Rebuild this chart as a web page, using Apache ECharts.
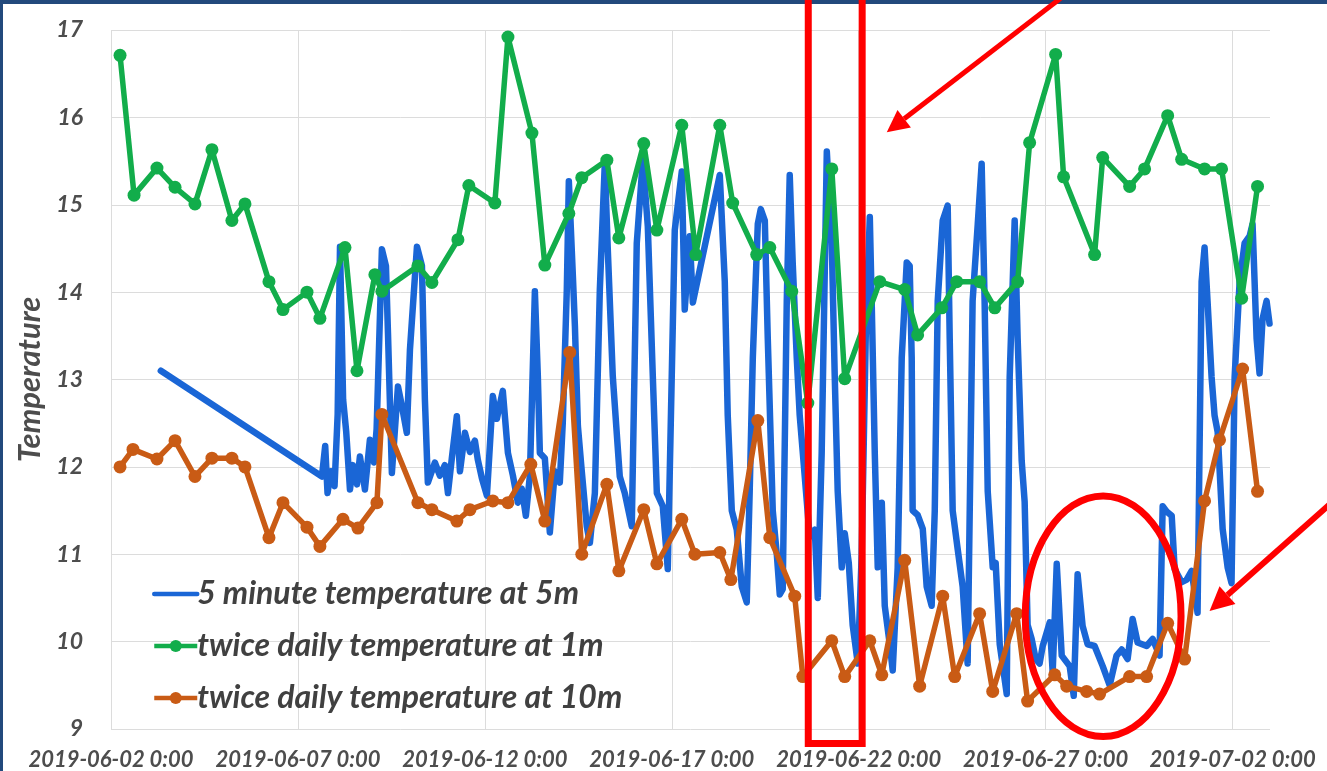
<!DOCTYPE html>
<html>
<head>
<meta charset="utf-8">
<script src="https://cdn.jsdelivr.net/npm/echarts@6.0.0/dist/echarts.min.js"></script>
<style>
  html, body { margin: 0; padding: 0; background: #ffffff; }
  #chart { width: 1327px; height: 771px; }
</style>
</head>
<body>
<div id="chart"></div>
<script>
// Time is counted in hours from 2019-06-02 00:00.
const seriesNames = [
  '5 minute temperature at 5m',
  'twice daily temperature at 1m',
  'twice daily temperature at 10m'
];
const xTickLabels = [
  '2019-06-02 0:00', '2019-06-07 0:00', '2019-06-12 0:00', '2019-06-17 0:00',
  '2019-06-22 0:00', '2019-06-27 0:00', '2019-07-02 0:00'
];

// [hours, °C] — logger at 5 m
const temp5m = [
  [32,13.10],
  [135.4,11.89],[137.5,12.24],[139,11.70],[141.2,11.95],[143.5,11.78],[145.5,12.60],[147,14.52],[149,12.77],[151,12.40],
  [153.4,11.74],[155.3,12.02],[157.9,11.80],[159.8,12.12],[163,11.74],[166.2,12.31],[168.8,12.05],[170.5,12.43],[173.9,14.49],
  [176.5,14.30],[177.8,13.53],[180.3,11.93],[184.2,12.92],[186.7,12.70],[189.9,12.39],[191.9,13.34],[196.4,14.52],[199.6,14.30],
  [201.5,12.77],[203.4,11.82],[207.9,12.05],[211.1,11.90],[214.3,12.02],[216.3,11.70],[218.8,12.10],[222,12.58],[224,11.95],
  [227.2,12.39],[230.4,12.17],[233.6,12.30],[235.5,12.08],[238.1,11.87],[241.3,11.67],[245.1,12.81],[247.7,12.55],[251.5,12.87],
  [254.8,12.16],[258,11.90],[261.2,11.59],[263.7,11.75],[266.3,11.44],[268.9,11.90],[272.1,14.01],[274,13.04],[275.3,12.16],
  [278.5,12.10],[281.7,11.25],[284.9,11.95],[288.1,11.82],[290,12.50],[292.6,14.03],[293.9,15.27],[296.5,14.18],[297.8,13.61],
  [299.7,12.47],[302.2,11.95],[305.4,11.32],[307.4,11.13],[310.6,11.70],[313.8,14.03],[317,15.48],[318.9,14.49],[322.1,13.04],
  [326.6,11.89],[329.8,11.70],[334.3,11.32],[337.5,14.56],[341.4,15.51],[344.6,14.75],[347.8,13.04],[350.4,11.70],[354.2,11.55],
  [357.4,10.83],[361.9,14.71],[366.4,15.38],[368.3,13.80],[371.5,14.64],[373.5,13.88],[390.8,15.34],[394,14.12],[395.9,12.59],
  [398.5,11.50],[401.7,11.28],[404.9,10.63],[408.1,10.45],[410,11.72],[412,13.25],[415.2,14.78],[417.1,14.95],[419.7,14.82],
  [421.6,13.47],[424.8,11.50],[427.4,11.00],[429.3,10.54],[431.2,10.60],[433.8,13.90],[435.7,15.34],[437.6,14.34],[440.2,13.25],
  [442.1,12.59],[445.3,11.90],[448.5,11.20],[451.8,11.28],[453.7,10.50],[456.2,12.15],[459.5,15.61],[462.7,14.56],[464.6,13.03],
  [466.5,11.72],[469.1,10.85],[471,11.24],[473.6,10.90],[476.1,10.19],[479.4,9.75],[481.9,11.00],[484.5,13.50],[487.1,14.86],
  [488.3,13.90],[490.3,12.15],[492.2,10.85],[494.8,11.59],[496.7,10.41],[499.9,9.97],[501.8,9.67],[505,10.85],[507.6,13.25],
  [510.8,14.34],[512.7,14.30],[514,13.25],[514.6,11.50],[517.8,11.45],[521.1,11.29],[523.6,10.63],[526.8,10.41],[528.8,11.50],
  [530.7,13.90],[533.9,14.82],[537.1,14.99],[538.4,13.47],[540.3,11.50],[543.5,11.06],[546.7,10.63],[549.9,9.75],[553.1,13.90],
  [556.4,14.78],[558.9,15.47],[560.8,13.90],[562.8,11.72],[566,10.85],[567.9,10.90],[570.5,9.97],[575,9.40],[576.9,13.03],
  [580.1,14.82],[582,13.47],[584.6,12.07],[586.5,11.60],[588.4,10.19],[591,10.03],[593.6,9.80],[596.1,9.75],[598.1,9.95],
  [602.6,10.22],[604.5,9.65],[607.1,10.89],[610.3,9.84],[615.4,9.72],[618,9.38],[620.5,10.77],[623.7,10.18],[626.9,9.97],
  [631.4,9.95],[636.6,9.72],[641.1,9.50],[645.5,9.84],[648.8,9.91],[652.6,9.80],[655.8,10.26],[659,9.99],[664.8,9.95],
  [668.7,10.03],[673.1,9.84],[675.1,11.55],[677.6,11.49],[680.9,11.44],[682.8,10.83],[687.3,10.68],[690.5,10.71],[693.7,10.81],
  [697.5,10.33],[700.1,14.12],[702,14.51],[703.9,13.90],[706.5,13.03],[708.4,12.59],[710.4,12.40],[713.6,11.29],[716.8,10.85],
  [719.3,10.67],[721.3,13.03],[724.5,14.12],[727.7,14.56],[730.9,14.64],[732.8,14.78],[735.4,13.47],[737.3,13.07],[739.2,13.69],
  [741.8,13.90],[743.7,13.64]
];

// [hours, °C] — twice daily readings at 1 m
const temp1m = [
  [5.8,16.71],[14.8,15.11],[29.5,15.42],[41.1,15.20],[53.9,15.01],[64.8,15.63],[77.6,14.82],[86,15.01],[101.4,14.12],
  [110.4,13.80],[125.8,14.00],[134.1,13.70],[150.2,14.51],[157.9,13.10],[169.4,14.20],[173.9,14.01],[197,14.30],[206,14.11],
  [222.7,14.60],[229.7,15.22],[246.4,15.02],[254.8,16.92],[270.2,15.82],[278.5,14.31],[293.9,14.90],[302.2,15.31],[318.3,15.51],
  [326,14.62],[342,15.70],[350.4,14.71],[366.4,15.91],[375.4,14.43],[390.8,15.91],[399.1,15.02],[414.5,14.43],[422.9,14.51],
  [437,14.01],[447.3,12.73],[462.7,15.41],[471,13.01],[493.5,14.12],[509.5,14.03],[517.8,13.51],[533.3,13.82],[542.9,14.12],
  [557.6,14.12],[567.3,13.82],[582,14.12],[589.7,15.71],[606.4,16.72],[611.5,15.32],[631.4,14.43],[636.6,15.54],[653.9,15.21],
  [663.5,15.41],[678.3,16.02],[687.3,15.52],[702,15.41],[712.9,15.41],[725.8,13.93],[736,15.21]
];

// [hours, °C] — twice daily readings at 10 m
const temp10m = [
  [5.8,12.00],[14.1,12.20],[29.5,12.09],[41.1,12.30],[53.9,11.89],[64.8,12.10],[77.6,12.10],[86,12.00],[101.4,11.19],
  [110.4,11.59],[125.8,11.31],[134.1,11.09],[148.9,11.40],[158.5,11.30],[170.7,11.59],[173.9,12.60],[197,11.59],[206,11.51],
  [222,11.38],[230.4,11.51],[245.1,11.61],[254.8,11.59],[269.5,12.03],[278.5,11.38],[294.5,13.31],[302.2,11.00],[318.3,11.80],
  [326,10.81],[342,11.51],[350.4,10.89],[366.4,11.40],[374.8,11.00],[390.8,11.02],[397.9,10.71],[415.2,12.53],[422.9,11.19],
  [438.9,10.52],[444.1,9.60],[462.7,10.01],[471,9.60],[487.1,10.01],[494.8,9.62],[509.5,10.93],[519.1,9.49],[533.9,10.52],
  [541.6,9.60],[557.6,10.32],[566,9.43],[581.4,10.32],[588.4,9.32],[605.8,9.62],[613.5,9.49],[626.3,9.43],[634.6,9.40],
  [653.9,9.60],[664.8,9.60],[678.3,10.21],[689.2,9.80],[702,11.61],[711.6,12.31],[726.4,13.12],[736,11.72]
];

// Callouts, placed in data units [hours, °C]
const boxCorners = [[447.6, 17.46], [482.2, 8.834]];
const ringCentre = [636.9, 10.29];
const ringRadii = [50.0, 1.377];
const arrowUpper = [[611.5, 17.39], [498.0, 15.83]];
const arrowLower = [[783.5, 11.59], [705.2, 10.35]];

const BLUE = '#1a66d6', GREEN = '#12ad4b', ORANGE = '#c95b15', RED = '#ff0000', NAVY = '#22497c';
const TEXT = '#4d4d4d', GRID = '#dcdcdc';
const FONT = 'Lato';

const chart = echarts.init(document.getElementById('chart'), null, { renderer: 'canvas' });

const labelFont = { fontFamily: FONT, fontStyle: 'italic', fontWeight: 'bold', color: TEXT };

chart.setOption({
  animation: false,
  backgroundColor: '#ffffff',
  grid: { left: 111, right: 57, top: 30, bottom: 41, containLabel: false },
  legend: {
    orient: 'vertical', left: 147, top: 571,
    itemWidth: 43, itemHeight: 15, itemGap: 16,
    lineStyle: { width: 4.5 },
    textStyle: {
      fontFamily: FONT, fontStyle: 'italic', fontWeight: 'bold', fontSize: 32, lineHeight: 36,
      color: '#404040', padding: [0, 0, 0, -5]
    },
    data: [
      { name: seriesNames[0], itemStyle: { opacity: 0 } },
      { name: seriesNames[1] },
      { name: seriesNames[2] }
    ]
  },
  xAxis: {
    type: 'value', min: 0, max: 744, interval: 120,
    axisLine: { show: false }, axisTick: { show: false },
    axisLabel: Object.assign({
      fontSize: 22, margin: 20, showMaxLabel: false,
      formatter: v => (v % 120 === 0 ? xTickLabels[v / 120] : '')
    }, labelFont),
    splitLine: { show: true, showMaxLine: false, lineStyle: { color: GRID, width: 1 } }
  },
  yAxis: {
    type: 'value', min: 9, max: 17, interval: 1,
    name: 'Temperature', nameLocation: 'middle', nameRotate: 90, nameGap: 60,
    nameTextStyle: Object.assign({ fontSize: 31 }, labelFont),
    axisLine: { show: false }, axisTick: { show: false },
    axisLabel: Object.assign({ fontSize: 23, margin: 28 }, labelFont),
    splitLine: { show: true, lineStyle: { color: GRID, width: 1 } }
  },
  series: [
    {
      name: seriesNames[0], type: 'line', data: temp5m, symbol: 'none', z: 2,
      lineStyle: { color: BLUE, width: 6.5, join: 'round', cap: 'round' },
      itemStyle: { color: BLUE }, emphasis: { disabled: true }
    },
    {
      name: seriesNames[1], type: 'line', data: temp1m, symbol: 'circle', symbolSize: 13,
      showAllSymbol: true, z: 3,
      lineStyle: { color: GREEN, width: 5.5, join: 'round' },
      itemStyle: { color: GREEN }, emphasis: { disabled: true }
    },
    {
      name: seriesNames[2], type: 'line', data: temp10m, symbol: 'circle', symbolSize: 13,
      showAllSymbol: true, z: 4,
      lineStyle: { color: ORANGE, width: 5.5, join: 'round' },
      itemStyle: { color: ORANGE }, emphasis: { disabled: true }
    }
  ]
});

// Red callouts and the slide frame, drawn on top of the plot
function toPx(p) { return chart.convertToPixel({ gridIndex: 0 }, p); }

function arrowShapes(tail, tip, headLen, headHalf, width) {
  const [x1, y1] = toPx(tail), [x2, y2] = toPx(tip);
  const dx = x1 - x2, dy = y1 - y2, len = Math.hypot(dx, dy);
  const ux = dx / len, uy = dy / len;
  const bx = x2 + ux * headLen, by = y2 + uy * headLen;
  const nx = -uy, ny = ux;
  return [
    { type: 'line', z: 100, shape: { x1: x1, y1: y1, x2: bx, y2: by }, style: { stroke: RED, lineWidth: width } },
    { type: 'polygon', z: 100, shape: { points: [[x2, y2], [bx + nx * headHalf, by + ny * headHalf], [bx - nx * headHalf, by - ny * headHalf]] }, style: { fill: RED } }
  ];
}

const [bx0, by0] = toPx(boxCorners[0]);
const [bx1, by1] = toPx(boxCorners[1]);
const [cx, cy] = toPx(ringCentre);
const [ex, ey] = toPx([ringCentre[0] + ringRadii[0], ringCentre[1] - ringRadii[1]]);

chart.setOption({
  graphic: [
    { type: 'rect', z: 100, shape: { x: bx0, y: by0, width: bx1 - bx0, height: by1 - by0 },
      style: { fill: 'none', stroke: RED, lineWidth: 7 } },
    { type: 'ellipse', z: 100, shape: { cx: cx, cy: cy, rx: ex - cx, ry: ey - cy },
      style: { fill: 'none', stroke: RED, lineWidth: 7 } }
  ].concat(
    arrowShapes(arrowUpper[0], arrowUpper[1], 22, 11, 5),
    arrowShapes(arrowLower[0], arrowLower[1], 24, 12, 6),
    [
      { type: 'rect', z: 90, shape: { x: 0, y: 0, width: 1327, height: 4 }, style: { fill: NAVY } },
      { type: 'rect', z: 90, shape: { x: 0, y: 0, width: 3, height: 771 }, style: { fill: NAVY } }
    ]
  )
});
</script>
</body>
</html>
